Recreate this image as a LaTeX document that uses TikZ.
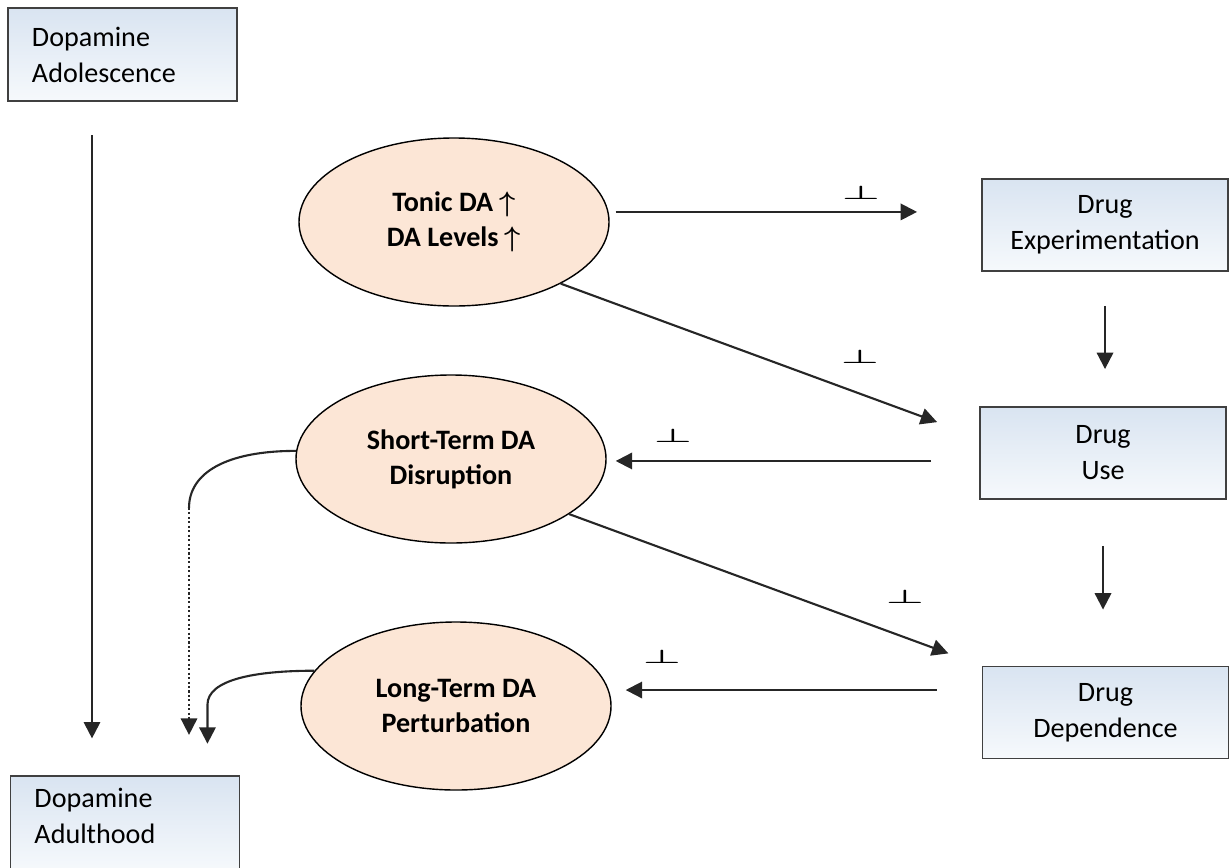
\documentclass[tikz,border=0pt]{standalone}
\usepackage{fontspec}
\setmainfont{Carlito}
\usepackage{graphicx}
\usetikzlibrary{shapes.geometric,arrows.meta}
\definecolor{boxtop}{RGB}{217,228,241}
\definecolor{boxbot}{RGB}{246,249,252}
\definecolor{peach}{RGB}{252,230,214}
\begin{document}
\begin{tikzpicture}[x=0.015cm,y=-0.015cm,
lbox/.style={draw=black!75, line width=0.8pt, top color=boxtop, bottom color=boxbot, font=\fontsize{12}{15.4}\selectfont, align=left, text width=2.715cm, inner xsep=0.36cm, minimum height=1.395cm},
rbox/.style={lbox, align=center, text width=3.29cm, inner xsep=0.2cm, minimum height=1.38cm},
oval/.style={ellipse, draw=black, line width=0.6pt, fill=peach, minimum width=4.65cm, minimum height=2.52cm, inner sep=0pt, font=\fontsize{12}{15}\selectfont\bfseries, align=center},
arr/.style={-{Triangle[length=7pt,width=7pt]}, line width=0.9pt, draw=black!85},
blk/.style={font=\fontsize{12}{12}\selectfont, inner sep=0pt}]
\useasboundingbox (0,0) rectangle (1231,867);
\node[lbox] (adol) at (122.5,54.5) {Dopamine\\Adolescence};
\node[lbox, minimum height=1.43cm, text depth=0.8cm] (adult) at (125,824) {Dopamine\\Adulthood};
\node[rbox] (exper) at (1105,225) {Drug\\Experimentation};
\node[rbox] (use) at (1103,453) {Drug\\Use};
\node[rbox] (depend) at (1105.5,712.5) {Drug\\Dependence};
\node[oval] (tonic) at (454,222) {Tonic DA {\boldmath$\uparrow$}\\DA Levels {\boldmath$\uparrow$}};
\node[oval] (short) at (451,459) {Short-Term DA\\Disruption};
\node[oval] (long) at (456,706) {Long-Term DA\\Perturbation};
\node[blk] (b1) at (861,193) {\scalebox{1.5}[0.68]{\boldmath$\perp$}};
\node[blk] (b2) at (860,357) {\scalebox{1.5}[0.68]{\boldmath$\perp$}};
\node[blk] (b3) at (673,436) {\scalebox{1.5}[0.68]{\boldmath$\perp$}};
\node[blk] (b4) at (905,597) {\scalebox{1.5}[0.68]{\boldmath$\perp$}};
\node[blk] (b5) at (662,657) {\scalebox{1.5}[0.68]{\boldmath$\perp$}};
\draw[arr, shorten <=0.5cm, shorten >=0.555cm] ([xshift=-0.4575cm]adol.south) -- ([xshift=-0.4575cm]adol.south |- adult.north);
\draw[arr, shorten <=0.09cm, shorten >=0.96cm] ([yshift=4.3pt]tonic.east) -- ([yshift=4.3pt]tonic.east -| exper.west);
\draw[arr, shorten >=0.67cm] (tonic.-30) -- ([yshift=6.6pt]use.west);
\draw[arr, shorten <=0.72cm, shorten >=0.135cm] ([yshift=-3.4pt]use.west) -- ([yshift=-3.4pt]use.west -| short.east);
\draw[arr, shorten >=0.53cm] (short.-25) -- (depend.north west);
\draw[arr, shorten <=0.675cm, shorten >=0.21cm] ([yshift=9.6pt]depend.west) -- ([yshift=9.6pt]depend.west -| long.east);
\draw[arr, shorten <=0.51cm, shorten >=0.555cm] (exper.south) -- (exper.south |- use.north);
\draw[arr, shorten <=0.69cm, shorten >=0.84cm] (use.south) -- (use.south |- depend.north);
\draw[line width=0.9pt, black!85] (short.177) .. controls +(-70,0) and +(0,-35) .. ++(-107,57) coordinate (sbend);
\draw[arr, densely dotted, line width=0.75pt] (sbend) -- ++(0,227);
\draw[arr] (long.166) .. controls +(-60,0) and +(0,-25) .. ++(-107,34) -- ++(0,39);
\end{tikzpicture}
\end{document}
